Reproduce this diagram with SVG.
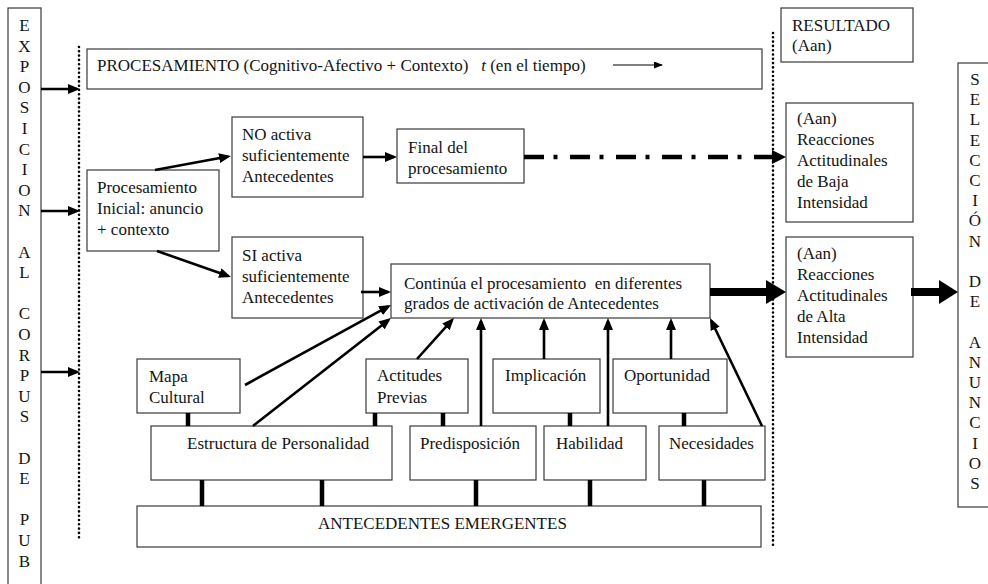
<svg xmlns="http://www.w3.org/2000/svg" width="988" height="584" viewBox="0 0 988 584">
<defs>
<style>
text{font-family:"Liberation Serif","Times New Roman",serif;font-size:17px;fill:#141414}
.b{fill:#fff;stroke:#3a3a3a;stroke-width:1.2}
.a{stroke:#000;stroke-width:2.6;fill:none;marker-end:url(#ah)}
.t{stroke:#000;stroke-width:4.5;fill:none}
.dot{stroke:#000;stroke-width:2.6;stroke-dasharray:0 4.3;stroke-linecap:round;fill:none}
.v{text-anchor:middle}
</style>
<marker id="ah" markerUnits="userSpaceOnUse" markerWidth="12" markerHeight="10" refX="9" refY="5" orient="auto"><path d="M0,0 L12,5 L0,10 z" fill="#000"/></marker>
<marker id="sm" markerUnits="userSpaceOnUse" markerWidth="9" markerHeight="7" refX="8" refY="3.5" orient="auto"><path d="M0,0 L9,3.5 L0,7 z" fill="#000"/></marker>
</defs>
<rect width="988" height="584" fill="#fff"/>

<g id="exposicion">
<rect class="b" x="8" y="8" width="33" height="590"/>
<text class="v" x="24.5" y="31">E</text>
<text class="v" x="24.5" y="51.6">X</text>
<text class="v" x="24.5" y="72.2">P</text>
<text class="v" x="24.5" y="92.8">O</text>
<text class="v" x="24.5" y="113.4">S</text>
<text class="v" x="24.5" y="134">I</text>
<text class="v" x="24.5" y="154.6">C</text>
<text class="v" x="24.5" y="175.2">I</text>
<text class="v" x="24.5" y="195.8">O</text>
<text class="v" x="24.5" y="216.4">N</text>
<text class="v" x="24.5" y="257.6">A</text>
<text class="v" x="24.5" y="278.2">L</text>
<text class="v" x="24.5" y="319.4">C</text>
<text class="v" x="24.5" y="340">O</text>
<text class="v" x="24.5" y="360.6">R</text>
<text class="v" x="24.5" y="381.2">P</text>
<text class="v" x="24.5" y="401.8">U</text>
<text class="v" x="24.5" y="422.4">S</text>
<text class="v" x="24.5" y="463.6">D</text>
<text class="v" x="24.5" y="484.2">E</text>
<text class="v" x="24.5" y="525.4">P</text>
<text class="v" x="24.5" y="546">U</text>
<text class="v" x="24.5" y="566.6">B</text>
</g>

<g id="dotted-lines">
<line class="dot" x1="79" y1="47" x2="79" y2="541"/>
<line class="dot" x1="773" y1="33" x2="773" y2="548"/>
</g>

<g id="procesamiento">
<rect class="b" x="87" y="49" width="675" height="40"/>
<text x="97" y="71" xml:space="preserve">PROCESAMIENTO (Cognitivo-Afectivo + Contexto)   <tspan font-style="italic">t</tspan> (en el tiempo)</text>
<line x1="613" y1="65" x2="662" y2="65" stroke="#000" stroke-width="1.2" marker-end="url(#sm)"/>
</g>

<g id="resultado">
<rect class="b" x="781" y="8" width="132" height="54"/>
<text x="792" y="31">RESULTADO</text>
<text x="792" y="51">(Aan)</text>
</g>

<g id="inicial">
<rect class="b" x="87" y="170" width="132" height="81"/>
<text x="97" y="193">Procesamiento</text>
<text x="97" y="214">Inicial: anuncio</text>
<text x="97" y="235">+ contexto</text>
</g>

<g id="no-activa">
<rect class="b" x="232" y="117" width="131" height="80"/>
<text x="242" y="140">NO activa</text>
<text x="242" y="161">suficientemente</text>
<text x="242" y="182">Antecedentes</text>
</g>

<g id="si-activa">
<rect class="b" x="232" y="237" width="131" height="81"/>
<text x="242" y="261">SI activa</text>
<text x="242" y="282">suficientemente</text>
<text x="242" y="303">Antecedentes</text>
</g>

<g id="final">
<rect class="b" x="397" y="129" width="127" height="54"/>
<text x="408" y="153">Final del</text>
<text x="408" y="174">procesamiento</text>
</g>

<g id="continua">
<rect class="b" x="391" y="264" width="319" height="54"/>
<text x="404" y="289" xml:space="preserve">Continúa el procesamiento  en diferentes</text>
<text x="404" y="309">grados de activación de Antecedentes</text>
</g>

<g id="baja">
<rect class="b" x="786" y="103" width="127" height="119"/>
<text x="797" y="124">(Aan)</text>
<text x="797" y="145">Reacciones</text>
<text x="797" y="166">Actitudinales</text>
<text x="797" y="187">de Baja</text>
<text x="797" y="208">Intensidad</text>
</g>

<g id="alta">
<rect class="b" x="786" y="237" width="127" height="120"/>
<text x="797" y="259">(Aan)</text>
<text x="797" y="280">Reacciones</text>
<text x="797" y="301">Actitudinales</text>
<text x="797" y="322">de Alta</text>
<text x="797" y="343">Intensidad</text>
</g>

<g id="seleccion">
<rect class="b" x="958" y="63" width="40" height="444"/>
<text class="v" x="975" y="85">S</text>
<text class="v" x="975" y="105.2">E</text>
<text class="v" x="975" y="125.4">L</text>
<text class="v" x="975" y="145.6">E</text>
<text class="v" x="975" y="165.8">C</text>
<text class="v" x="975" y="186">C</text>
<text class="v" x="975" y="206.2">I</text>
<text class="v" x="975" y="226.4">Ó</text>
<text class="v" x="975" y="246.6">N</text>
<text class="v" x="975" y="287">D</text>
<text class="v" x="975" y="307.2">E</text>
<text class="v" x="975" y="347.6">A</text>
<text class="v" x="975" y="367.8">N</text>
<text class="v" x="975" y="388">U</text>
<text class="v" x="975" y="408.2">N</text>
<text class="v" x="975" y="428.4">C</text>
<text class="v" x="975" y="448.6">I</text>
<text class="v" x="975" y="468.8">O</text>
<text class="v" x="975" y="489">S</text>
</g>

<g id="mapa">
<rect class="b" x="137" y="359" width="103" height="54"/>
<text x="149" y="382">Mapa</text>
<text x="149" y="403">Cultural</text>
</g>

<g id="actitudes">
<rect class="b" x="366" y="359" width="102" height="54"/>
<text x="377" y="381">Actitudes</text>
<text x="377" y="403">Previas</text>
</g>

<g id="implicacion">
<rect class="b" x="493" y="359" width="107" height="54"/>
<text x="505" y="381">Implicación</text>
</g>

<g id="oportunidad">
<rect class="b" x="613" y="359" width="114" height="54"/>
<text x="624" y="381">Oportunidad</text>
</g>

<g id="estructura">
<rect class="b" x="151" y="426" width="241" height="54"/>
<text x="187" y="449">Estructura de Personalidad</text>
</g>

<g id="predisposicion">
<rect class="b" x="410" y="426" width="126" height="54"/>
<text x="420" y="449">Predisposición</text>
</g>

<g id="habilidad">
<rect class="b" x="544" y="426" width="102" height="54"/>
<text x="556" y="449">Habilidad</text>
</g>

<g id="necesidades">
<rect class="b" x="659" y="426" width="106" height="54"/>
<text x="669" y="449">Necesidades</text>
</g>

<g id="antecedentes">
<rect class="b" x="137" y="506" width="624" height="41"/>
<text x="318" y="529">ANTECEDENTES EMERGENTES</text>
</g>

<g id="connectors">
<line class="a" x1="41" y1="89" x2="77" y2="89"/>
<line class="a" x1="41" y1="211" x2="77" y2="211"/>
<line class="a" x1="41" y1="372" x2="77" y2="372"/>
<line class="a" x1="155" y1="170" x2="228" y2="156.5"/>
<line class="a" x1="157" y1="251" x2="228.2" y2="276"/>
<line class="a" x1="363" y1="157" x2="394" y2="157"/>
<line class="a" x1="361" y1="292" x2="388" y2="292"/>
<line class="a" x1="245" y1="385" x2="388.4" y2="306.4"/>
<line class="a" x1="253" y1="426" x2="388.6" y2="319.9"/>
<line class="a" x1="417" y1="359" x2="452" y2="320.2"/>
<line class="a" x1="481" y1="426" x2="481" y2="321"/>
<line class="a" x1="544" y1="359" x2="544" y2="321"/>
<line class="a" x1="608" y1="426" x2="608" y2="321"/>
<line class="a" x1="671" y1="359" x2="671" y2="321"/>
<line class="a" x1="762" y1="426" x2="711.3" y2="320.7"/>
<path d="M524,157 H774" stroke="#000" stroke-width="4.5" stroke-dasharray="20 9.5 4 12.5" fill="none"/>
<polygon points="772,150 786,157 772,164" fill="#000"/>
<rect x="710" y="288" width="58" height="8" fill="#000"/>
<polygon points="766,280 786,292 766,304" fill="#000"/>
<rect x="911" y="288" width="30" height="8" fill="#000"/>
<polygon points="939,280 958,292 939,304" fill="#000"/>
<line class="t" x1="188" y1="413" x2="188" y2="426"/>
<line class="t" x1="375" y1="413" x2="375" y2="426"/>
<line class="t" x1="443" y1="413" x2="443" y2="426"/>
<line class="t" x1="570" y1="413" x2="570" y2="426"/>
<line class="t" x1="684" y1="413" x2="684" y2="426"/>
<line class="t" x1="202" y1="480" x2="202" y2="506"/>
<line class="t" x1="322" y1="480" x2="322" y2="506"/>
<line class="t" x1="476" y1="480" x2="476" y2="506"/>
<line class="t" x1="590" y1="480" x2="590" y2="506"/>
<line class="t" x1="704" y1="480" x2="704" y2="506"/>
</g>
</svg>
